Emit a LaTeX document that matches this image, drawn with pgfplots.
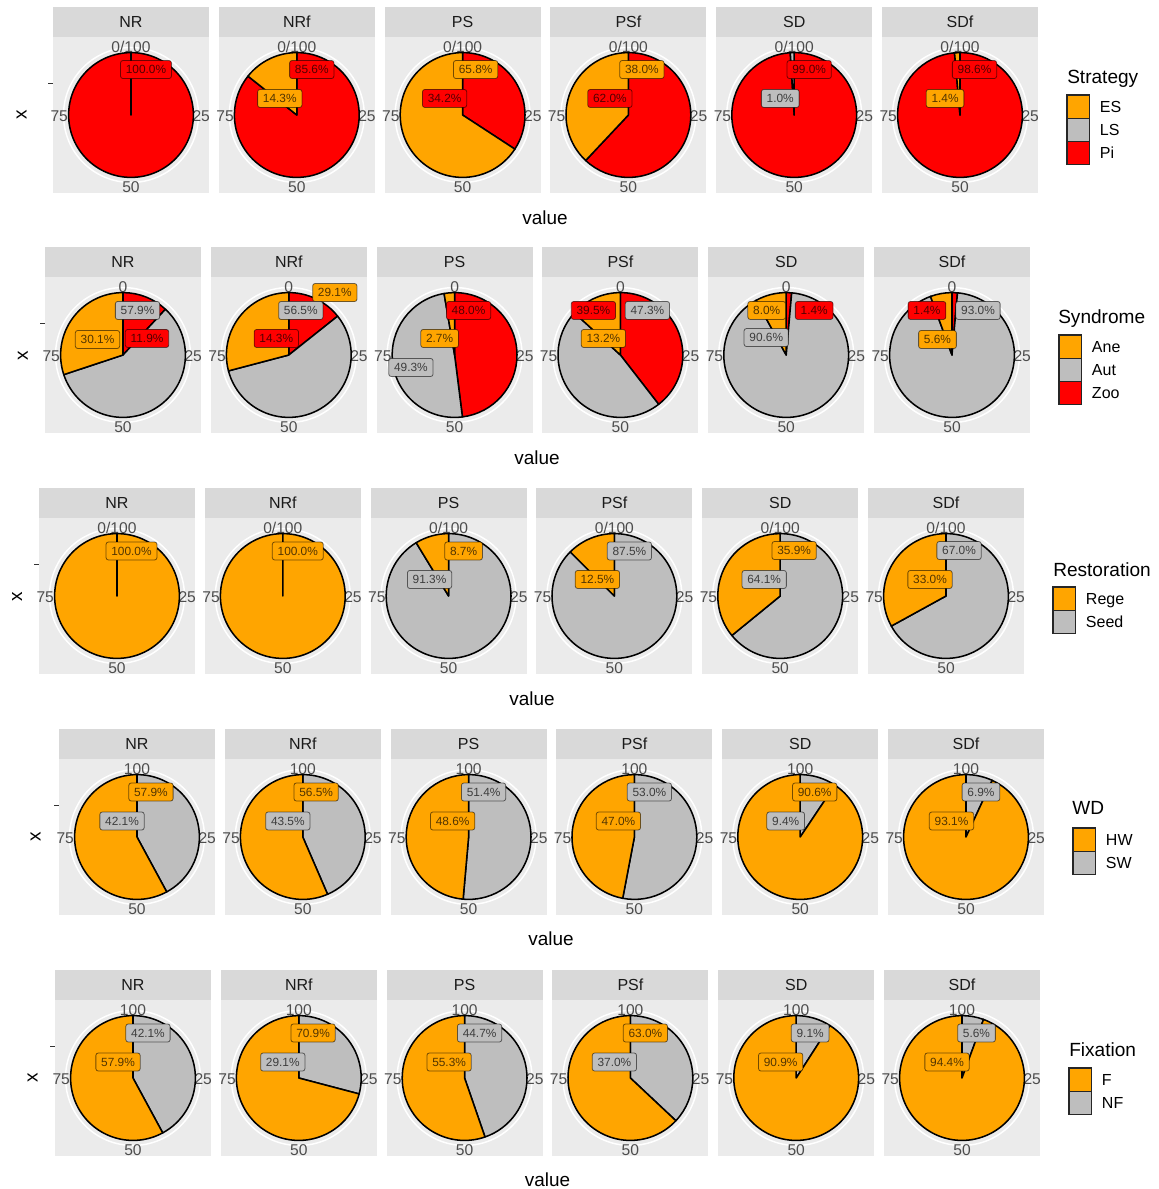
\documentclass[border=0pt]{standalone}
\usepackage{pgfplots}
\pgfplotsset{compat=1.18}
\usepackage{fontspec}
\setmainfont{Liberation Sans}
\definecolor{co}{HTML}{FFA500}
\definecolor{cg}{HTML}{BEBEBE}
\definecolor{cr}{HTML}{FF0000}
\definecolor{panelbg}{HTML}{EBEBEB}
\definecolor{stripbg}{HTML}{D9D9D9}
\definecolor{g10}{HTML}{1A1A1A}
\definecolor{g20}{HTML}{333333}
\definecolor{g30}{HTML}{4D4D4D}
\pgfdeclareplotmark{nothing}{}
\newcommand\PR{46.8pt}
\pgfplotsset{
  facet/.style={scale only axis, width=117pt, height=117pt,
    xmin=-1, xmax=1, ymin=-1, ymax=1,
    anchor=north west, clip=false, axis line style={draw=none},
    xtick=\empty, ytick=\empty,
    axis background/.style={fill=panelbg},
    every axis title shift=0pt,
    title style={at={(0.5,1)}, anchor=south, yshift=0pt, fill=stripbg, text=g10,
      minimum width=117pt, minimum height=22.5pt, inner sep=0pt,
      text height=8.6pt, text depth=0pt, font=\fontsize{12}{14}\selectfont}},
  firstfacet/.style={ytick={0.4}, yticklabels={}, ytick pos=left, tick align=outside,
    major tick length=3.5pt, tick style={draw=g20, line width=0.8pt}},
  pie/.style={scatter, only marks, mark=nothing,
    point meta=\thisrow{s}, point meta min=0, point meta max=100,
    visualization depends on={value \thisrow{s}\as\sa},
    visualization depends on={value \thisrow{e}\as\ea},
    visualization depends on={value \thisrow{c}\as\wc},
    scatter/@pre marker code/.code={%
      \begin{pgfscope}%
      \pgfkeys{/pgf/fpu=false}%
      \pgfmathsetmacro\wa{90-3.6*\sa}%
      \pgfmathsetmacro\wb{90-3.6*\ea}%
      \pgfsetfillcolor{c\wc}%
      \pgfsetstrokecolor{black}%
      \pgfsetlinewidth{1.15pt}%
      \pgfsetroundjoin
      \pgfpathmoveto{\pgfpointorigin}%
      \pgfpathlineto{\pgfpointpolar{\wa}{\PR}}%
      \pgfpatharc{\wa}{\wb}{\PR}%
      \pgfpathclose
      \pgfusepath{fill,stroke}%
      \end{pgfscope}%
    },
    scatter/@post marker code/.code={}},
  labs/.style={draw=none, mark=none, point meta=explicit symbolic,
    nodes near coords={\pgfplotspointmeta\%},
    visualization depends on={value \thisrow{c}\as\lc},
    every node near coord/.append style={anchor=center, fill=c\lc, draw=black,
      draw opacity=0.55, text=black, text opacity=0.68, rounded corners=1.8pt,
      line width=0.6pt, inner xsep=4pt, inner ysep=0pt, minimum height=13.5pt,
      text height=6.4pt, text depth=0pt, font=\fontsize{8.9}{10}\selectfont}},
}
\tikzset{thl/.style={font=\fontsize{11.7}{13}\selectfont, text=g30, inner sep=0pt},
  seg/.style={g20, line width=0.5pt}}
% #1 x (px), #2 panel top (px), #3 title, #4 top angle label, #5 axis options,
% #6 wedges (start end colour), #7 labels (x y colour value), #8 extra
\newcommand\facet[8]{%
\begin{axis}[facet, at={({(#1)*0.75pt},{-(#2)*0.75pt})}, title={#3}, #5]
\draw[white, line width=1.1pt] (axis cs:0,0) circle[radius=50.6pt];
\addplot[pie] table[row sep=\\]{x y s e c\\ #6};
\node[thl] at (axis cs:0,0.875) {#4};
\node[thl] at (axis cs:0.9,-0.02) {25};
\node[thl] at (axis cs:0,-0.925) {50};
\node[thl] at (axis cs:-0.92,-0.02) {75};
#8
\addplot[labs] table[row sep=\\, meta=t]{x y c t\\ #7};
\end{axis}}
\newcommand\legtitle[3]{\node[anchor=base west, inner sep=0pt, text=black, font=\fontsize{14.3}{16}\selectfont] at (#1,{-(#2)}) {#3};}
\newcommand\legkey[4]{%
\filldraw[fill=#3, draw=black!85, line width=0.8pt] (#1,{-(#2)}) rectangle ++(22.7,-23.3);
\node[anchor=base west, inner sep=0pt, text=black, font=\fontsize{12}{14}\selectfont] at ({#1+32.7},{-(#2)-17.3}) {#4};}
\newcommand\valuelab[2]{\node[font=\fontsize{14.2}{16}\selectfont, inner sep=0pt] at (#1,{-(#2)}) {value};}
\newcommand\xlab[2]{\node[font=\fontsize{14.2}{16}\selectfont, inner sep=0pt, rotate=90] at (#1,{-(#2)}) {x};}

\begin{document}
\begin{tikzpicture}[x=0.75pt, y=0.75pt]
\fill[white] (0,0) rectangle (1159,-1189);
\path[use as bounding box] (0,0) rectangle (1159,-1189);

% ---------------- Row 1: Strategy ----------------
\facet{53}{37}{NR}{0/100}{firstfacet}{0 0 0 100 r\\}{0.192 0.583 r 100.0\\}{}
\facet{53+165.8}{37}{NRf}{0/100}{}{0 0 0 85.7 r\\ 0 0 85.7 100 o\\}{0.192 0.583 r 85.6\\ -0.218 0.212 o 14.3\\}{}
\facet{53+165.8*2}{37}{PS}{0/100}{}{0 0 0 34.2 r\\ 0 0 34.2 100 o\\}{0.167 0.583 o 65.8\\ -0.231 0.212 r 34.2\\}{}
\facet{53+165.8*3}{37}{PSf}{0/100}{}{0 0 0 62.0 r\\ 0 0 62.0 100 o\\}{0.173 0.583 o 38.0\\ -0.237 0.212 r 62.0\\}{}
\facet{53+165.8*4}{37}{SD}{0/100}{}{0 0 0 99.0 r\\ 0 0 99.0 100 g\\}{0.192 0.583 r 99.0\\ -0.179 0.212 g 1.0\\}{}
\facet{53+165.8*5}{37}{SDf}{0/100}{}{0 0 0 98.6 r\\ 0 0 98.6 100 o\\}{0.186 0.583 r 98.6\\ -0.192 0.212 o 1.4\\}{}
\valuelab{545}{218}
\xlab{21.7}{115}
\legtitle{1067}{83.8}{Strategy}
\legkey{1067}{95}{co}{ES}
\legkey{1067}{118.3}{cg}{LS}
\legkey{1067}{141.6}{cr}{Pi}

% ---------------- Row 2: Syndrome ----------------
\facet{45}{277}{NR}{0}{firstfacet}{0 0 0 11.9 r\\ 0 0 11.9 69.9 g\\ 0 0 69.9 100 o\\}{0.186 0.571 g 57.9\\ -0.327 0.199 o 30.1\\ 0.308 0.212 r 11.9\\}{\draw[seg] (axis cs:-0.06,0.199) -- (axis cs:0.013,0.362);}
\facet{45+165.8}{277}{NRf}{0}{}{0 0 0 14.3 r\\ 0 0 14.3 70.9 g\\ 0 0 70.9 100 o\\}{0.590 0.801 o 29.1\\ 0.154 0.571 g 56.5\\ -0.160 0.212 r 14.3\\}{\draw[seg] (axis cs:0.31,0.69) -- (axis cs:0.05,0.30);}
\facet{45+165.8*2}{277}{PS}{0}{}{0 0 0 48.0 r\\ 0 0 48.0 97.3 g\\ 0 0 97.3 100 o\\}{0.179 0.571 r 48.0\\ -0.192 0.212 o 2.7\\ -0.560 -0.160 g 49.3\\}{\draw[seg] (axis cs:-0.292,-0.109) -- (axis cs:-0.173,0.208);}
\facet{45+165.8*3}{277}{PSf}{0}{}{0 0 0 39.5 r\\ 0 0 39.5 86.8 g\\ 0 0 86.8 100 o\\}{-0.346 0.571 r 39.5\\ 0.346 0.571 g 47.3\\ -0.218 0.212 o 13.2\\}{}
\facet{45+165.8*4}{277}{SD}{0}{}{0 0 0 1.4 r\\ 0 0 1.4 92.0 g\\ 0 0 92.0 100 o\\}{-0.250 0.571 o 8.0\\ 0.359 0.571 r 1.4\\ -0.256 0.224 g 90.6\\}{}
\facet{45+165.8*5}{277}{SDf}{0}{}{0 0 0 1.4 r\\ 0 0 1.4 94.4 g\\ 0 0 94.4 100 o\\}{-0.321 0.571 r 1.4\\ 0.333 0.571 g 93.0\\ -0.186 0.199 o 5.6\\}{}
\valuelab{537}{458}
\xlab{22.8}{355.5}
\legtitle{1058}{323.8}{Syndrome}
\legkey{1059}{335}{co}{Ane}
\legkey{1059}{358.3}{cg}{Aut}
\legkey{1059}{381.6}{cr}{Zoo}

% ---------------- Row 3: Restoration ----------------
\facet{39}{518}{NR}{0/100}{firstfacet}{0 0 0 100 o\\}{0.186 0.577 o 100.0\\}{}
\facet{39+165.8}{518}{NRf}{0/100}{}{0 0 0 100 o\\}{0.192 0.577 o 100.0\\}{}
\facet{39+165.8*2}{518}{PS}{0/100}{}{0 0 0 91.3 g\\ 0 0 91.3 100 o\\}{0.192 0.577 o 8.7\\ -0.244 0.212 g 91.3\\}{}
\facet{39+165.8*3}{518}{PSf}{0/100}{}{0 0 0 87.5 g\\ 0 0 87.5 100 o\\}{0.192 0.577 g 87.5\\ -0.218 0.212 o 12.5\\}{}
\facet{39+165.8*4}{518}{SD}{0/100}{}{0 0 0 64.1 g\\ 0 0 64.1 100 o\\}{0.179 0.583 o 35.9\\ -0.205 0.212 g 64.1\\}{}
\facet{39+165.8*5}{518}{SDf}{0/100}{}{0 0 0 67.0 g\\ 0 0 67.0 100 o\\}{0.167 0.583 g 67.0\\ -0.205 0.212 o 33.0\\}{}
\valuelab{532}{699}
\xlab{17}{596.5}
\legtitle{1053}{576.8}{Restoration}
\legkey{1053}{587}{co}{Rege}
\legkey{1053}{610.3}{cg}{Seed}

% ---------------- Row 4: WD ----------------
\facet{59}{759}{NR}{100}{firstfacet}{0 0 0 42.1 g\\ 0 0 42.1 100 o\\}{0.179 0.577 o 57.9\\ -0.192 0.205 g 42.1\\}{}
\facet{59+165.8}{759}{NRf}{100}{}{0 0 0 43.5 g\\ 0 0 43.5 100 o\\}{0.171 0.577 o 56.5\\ -0.192 0.205 g 43.5\\}{}
\facet{59+165.8*2}{759}{PS}{100}{}{0 0 0 51.4 g\\ 0 0 51.4 100 o\\}{0.192 0.577 g 51.4\\ -0.205 0.205 o 48.6\\}{}
\facet{59+165.8*3}{759}{PSf}{100}{}{0 0 0 53.0 g\\ 0 0 53.0 100 o\\}{0.192 0.577 g 53.0\\ -0.205 0.205 o 47.0\\}{}
\facet{59+165.8*4}{759}{SD}{100}{}{0 0 0 9.4 g\\ 0 0 9.4 100 o\\}{0.186 0.577 o 90.6\\ -0.186 0.205 g 9.4\\}{}
\facet{59+165.8*5}{759}{SDf}{100}{}{0 0 0 6.9 g\\ 0 0 6.9 100 o\\}{0.192 0.577 g 6.9\\ -0.186 0.205 o 93.1\\}{}
\valuelab{551}{939}
\xlab{35.7}{837}
\legtitle{1072}{814.8}{WD}
\legkey{1073}{828}{co}{HW}
\legkey{1073}{851.3}{cg}{SW}

% ---------------- Row 5: Fixation ----------------
\facet{55}{1000}{NR}{100}{firstfacet}{0 0 0 42.1 g\\ 0 0 42.1 100 o\\}{0.192 0.577 g 42.1\\ -0.192 0.205 o 57.9\\}{}
\facet{55+165.8}{1000}{NRf}{100}{}{0 0 0 29.1 g\\ 0 0 29.1 100 o\\}{0.183 0.577 o 70.9\\ -0.205 0.205 g 29.1\\}{}
\facet{55+165.8*2}{1000}{PS}{100}{}{0 0 0 44.7 g\\ 0 0 44.7 100 o\\}{0.192 0.577 g 44.7\\ -0.199 0.205 o 55.3\\}{}
\facet{55+165.8*3}{1000}{PSf}{100}{}{0 0 0 37.0 g\\ 0 0 37.0 100 o\\}{0.192 0.577 o 63.0\\ -0.205 0.205 g 37.0\\}{}
\facet{55+165.8*4}{1000}{SD}{100}{}{0 0 0 9.1 g\\ 0 0 9.1 100 o\\}{0.179 0.577 g 9.1\\ -0.199 0.205 o 90.9\\}{}
\facet{55+165.8*5}{1000}{SDf}{100}{}{0 0 0 5.6 g\\ 0 0 5.6 100 o\\}{0.186 0.577 g 5.6\\ -0.192 0.205 o 94.4\\}{}
\valuelab{547.5}{1180}
\xlab{32.5}{1078}
\legtitle{1069}{1056.8}{Fixation}
\legkey{1069}{1068}{co}{F}
\legkey{1069}{1091.3}{cg}{NF}
\end{tikzpicture}
\end{document}
